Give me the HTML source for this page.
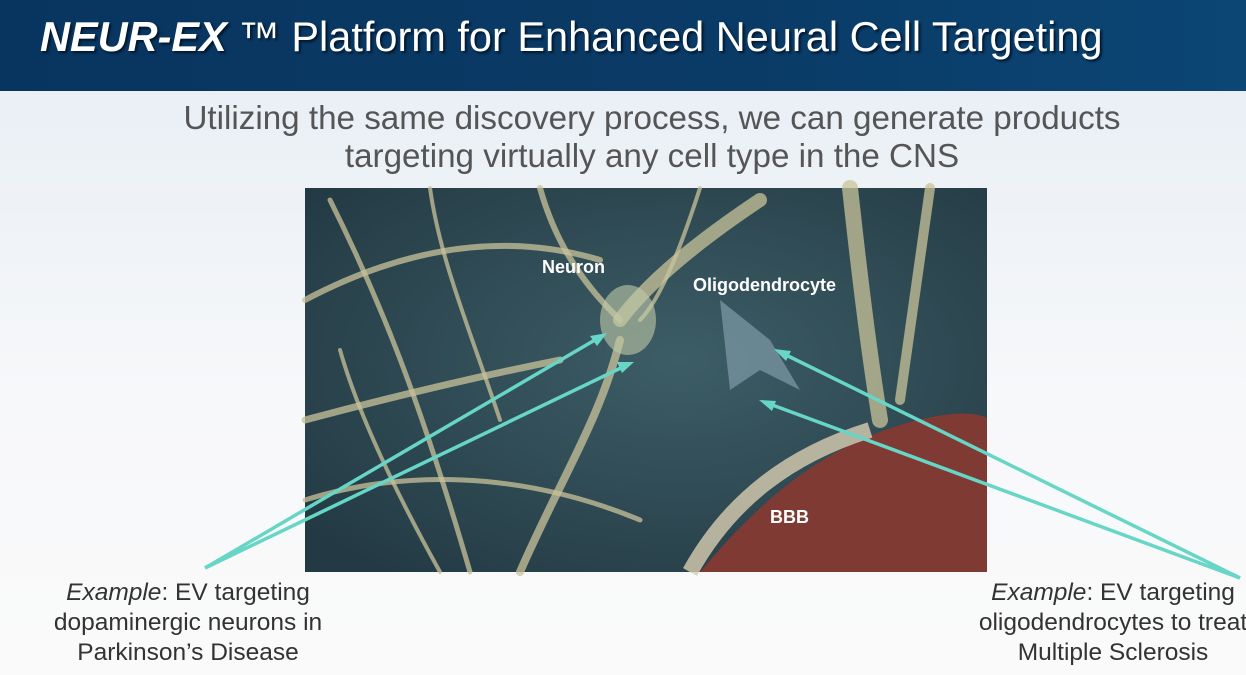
<!DOCTYPE html>
<html><head><style>
body{margin:0;width:1246px;height:675px;overflow:hidden;position:relative;font-family:"Liberation Sans",sans-serif;background:linear-gradient(#e6eef6 0px,#eef2f6 200px,#f7f8fa 400px,#fafafa 675px);}
.hdr{position:absolute;left:0;top:0;width:1246px;height:91px;background:linear-gradient(90deg,#08355f,#0a3b66 60%,#0b4675);}
.hdr div{position:absolute;left:40px;top:13px;color:#fff;font-size:41.5px;text-shadow:2px 2px 2px #02172e;white-space:nowrap}
.sub{position:absolute;left:0;width:1304px;text-align:center;color:#555;font-size:33.2px;line-height:38px;top:100px;white-space:nowrap}
.t{position:absolute;font-size:24.5px;color:#333;text-align:center;line-height:30px;white-space:nowrap}
</style></head><body>
<div class="hdr"><div><b><i>NEUR-EX</i></b> ™ Platform for Enhanced Neural Cell Targeting</div></div>
<div class="sub">Utilizing the same discovery process, we can generate products<br>targeting virtually any cell type in the CNS</div>
<svg style="position:absolute;left:0;top:0" width="1246" height="675">
<defs><radialGradient id="g" cx="0.55" cy="0.45" r="0.7"><stop offset="0" stop-color="#3d5d66"/><stop offset="1" stop-color="#233a44"/></radialGradient></defs>
<rect x="305" y="188" width="682" height="384" fill="url(#g)"/>
<g stroke="#c9c39a" stroke-opacity="0.75" fill="none" stroke-linecap="round">
<path d="M305 300 C400 250 500 230 600 260" stroke-width="6"/>
<path d="M330 200 C380 300 420 400 470 572" stroke-width="5"/>
<path d="M620 320 C650 280 700 240 760 200" stroke-width="14"/>
<path d="M540 188 C560 260 600 300 620 320" stroke-width="6"/>
<path d="M620 340 C600 420 560 480 520 572" stroke-width="8"/>
<path d="M305 420 C380 400 460 380 560 360" stroke-width="7"/>
<path d="M305 500 C400 470 520 470 640 520" stroke-width="5"/>
<path d="M850 188 C860 280 870 360 880 420" stroke-width="16"/>
<path d="M930 188 C920 260 910 330 900 400" stroke-width="10"/>
<path d="M430 188 C440 260 470 330 500 420" stroke-width="4"/>
<path d="M700 188 C680 250 660 300 640 320" stroke-width="4"/>
<path d="M340 350 C360 420 400 500 440 572" stroke-width="4"/>
</g>
<path d="M700 572 C760 500 820 450 900 425 C950 410 975 412 987 418 L987 572 Z" fill="#7e3a33"/>
<path d="M690 572 C730 500 790 455 870 430" stroke="#d8cdb0" stroke-width="16" fill="none" opacity="0.8"/>
<ellipse cx="628" cy="320" rx="28" ry="35" fill="#bfc9a8" opacity="0.6"/>
<path d="M720 300 L770 340 L800 390 L760 370 L730 390 Z" fill="#8aa6b4" opacity="0.6"/>
<g font-family="Liberation Sans" font-weight="bold" font-size="18" fill="#fff">
<text x="542" y="273">Neuron</text><text x="693" y="291">Oligodendrocyte</text><text x="770" y="523">BBB</text></g>
<g stroke="#67d6c6" stroke-width="3.5" fill="#67d6c6">
<line x1="205" y1="568" x2="600" y2="337"/><line x1="205" y1="568" x2="627" y2="365"/>
<line x1="1240" y1="578" x2="782" y2="353"/><line x1="1240" y1="578" x2="767" y2="403"/>
<polygon points="607,333 590,336 597,346" stroke="none"/>
<polygon points="634,362 617,362 622,373" stroke="none"/>
<polygon points="774,349 791,351 786,361" stroke="none"/>
<polygon points="759,400 776,401 772,411" stroke="none"/>
</g>
</svg>
<div class="t" style="left:38px;width:300px;top:578px"><i>Example</i>: EV targeting<br>dopaminergic neurons in<br>Parkinson’s Disease</div>
<div class="t" style="left:963px;width:300px;top:578px"><i>Example</i>: EV targeting<br>oligodendrocytes to treat<br>Multiple Sclerosis</div>
</body></html>
